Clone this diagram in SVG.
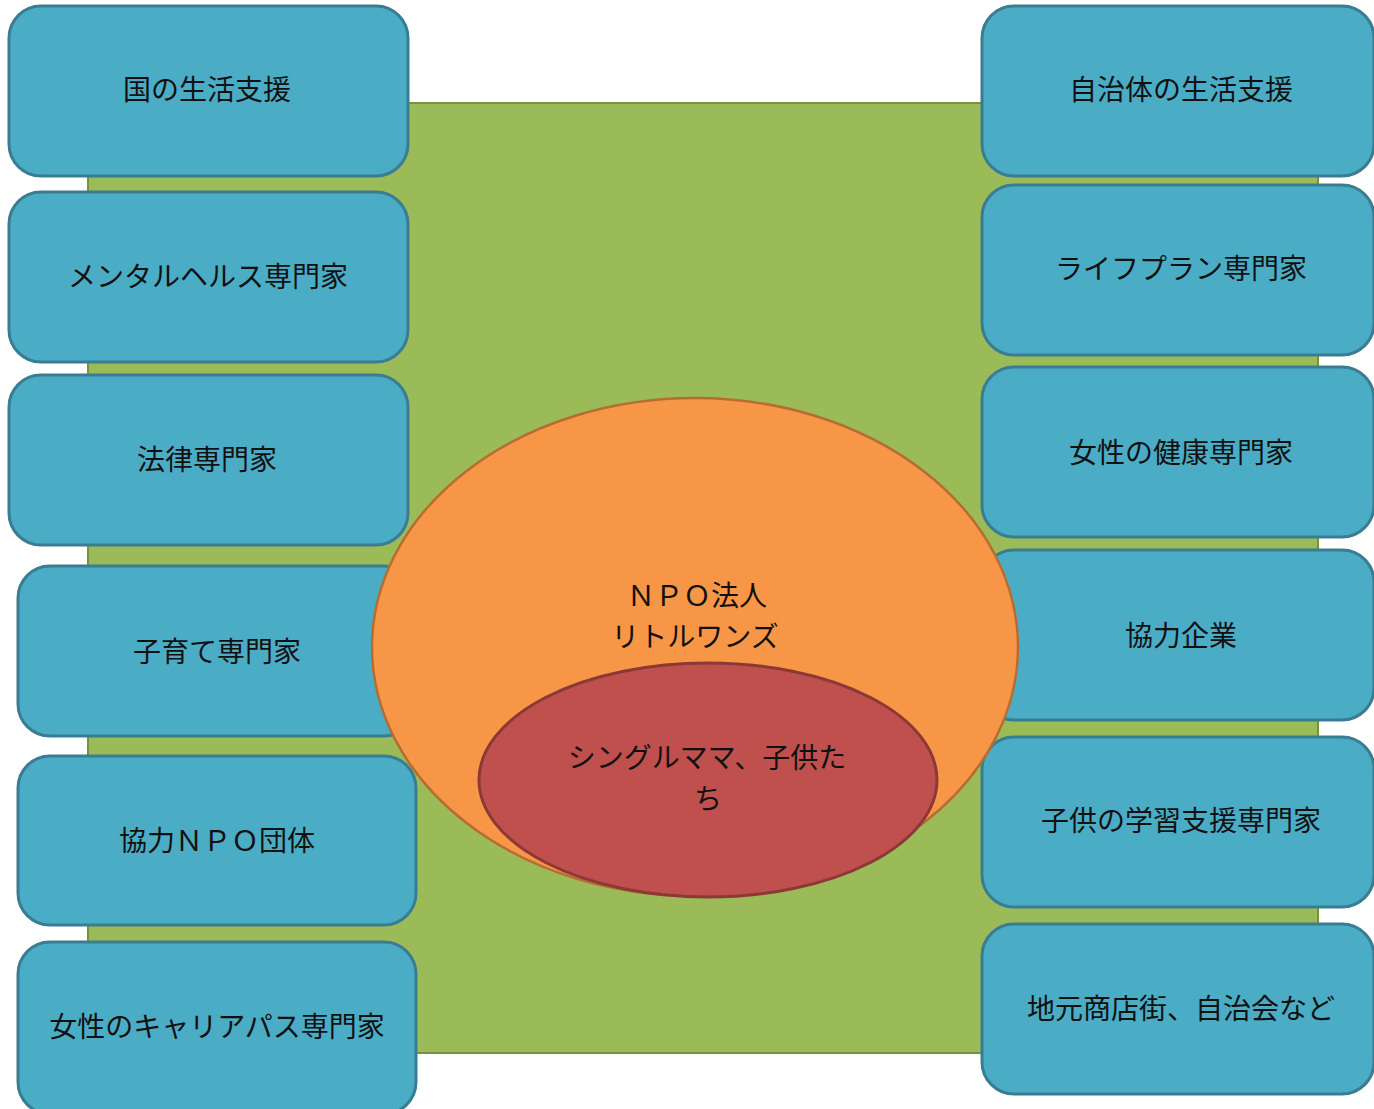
<svg xmlns="http://www.w3.org/2000/svg" width="1374" height="1109" viewBox="0 0 1374 1109">
<style>
.box{fill:#4BACC6;stroke:#3A7D92;stroke-width:3}
.t{font-family:"Noto Sans CJK JP","Noto Sans CJK SC",sans-serif;font-size:28px;fill:#111;text-anchor:middle}
</style>
<rect width="1374" height="1109" fill="#ffffff"/>
<g id="background">
<rect x="88" y="103" width="1230" height="950" fill="#9BBB59" stroke="#76923C" stroke-width="2"/>
</g>
<g id="connectors"></g>
<g id="n1"><rect class="box" x="9" y="6" width="399" height="170" rx="32"/><text class="t" x="207" y="100">国の生活支援</text></g>
<g id="n2"><rect class="box" x="9" y="192" width="399" height="170" rx="32"/><text class="t" x="208" y="287">メンタルヘルス専門家</text></g>
<g id="n3"><rect class="box" x="9" y="375" width="399" height="170" rx="32"/><text class="t" x="207" y="470">法律専門家</text></g>
<g id="n4"><rect class="box" x="18" y="566" width="398" height="170" rx="32"/><text class="t" x="217" y="662">子育て専門家</text></g>
<g id="n5"><rect class="box" x="18" y="756" width="398" height="169" rx="32"/><text class="t" x="217" y="851">協力ＮＰＯ団体</text></g>
<g id="n6"><rect class="box" x="18" y="942" width="398" height="172" rx="32"/><text class="t" x="217" y="1037">女性のキャリアパス専門家</text></g>
<g id="n7"><rect class="box" x="982" y="6" width="392" height="170" rx="32"/><text class="t" x="1181" y="100">自治体の生活支援</text></g>
<g id="n8"><rect class="box" x="982" y="185" width="392" height="170" rx="32"/><text class="t" x="1181" y="279">ライフプラン専門家</text></g>
<g id="n9"><rect class="box" x="982" y="367" width="392" height="170" rx="32"/><text class="t" x="1181" y="463">女性の健康専門家</text></g>
<g id="n10"><rect class="box" x="982" y="550" width="392" height="170" rx="32"/><text class="t" x="1181" y="646">協力企業</text></g>
<g id="n11"><rect class="box" x="982" y="737" width="392" height="170" rx="32"/><text class="t" x="1181" y="831">子供の学習支援専門家</text></g>
<g id="n12"><rect class="box" x="982" y="924" width="392" height="170" rx="32"/><text class="t" x="1181" y="1019">地元商店街、自治会など</text></g>
<g id="npo">
<ellipse cx="695" cy="647" rx="323" ry="249" fill="#F79646" stroke="#B66D31" stroke-width="2.5"/>
<text class="t" x="697" y="606">ＮＰＯ法人</text>
<text class="t" x="695" y="647">リトルワンズ</text>
</g>
<g id="family">
<ellipse cx="708" cy="780" rx="229" ry="117" fill="#C0504D" stroke="#8C3836" stroke-width="3"/>
<text class="t" x="707" y="768">シングルママ、子供た</text>
<text class="t" x="708" y="809">ち</text>
</g>
</svg>
